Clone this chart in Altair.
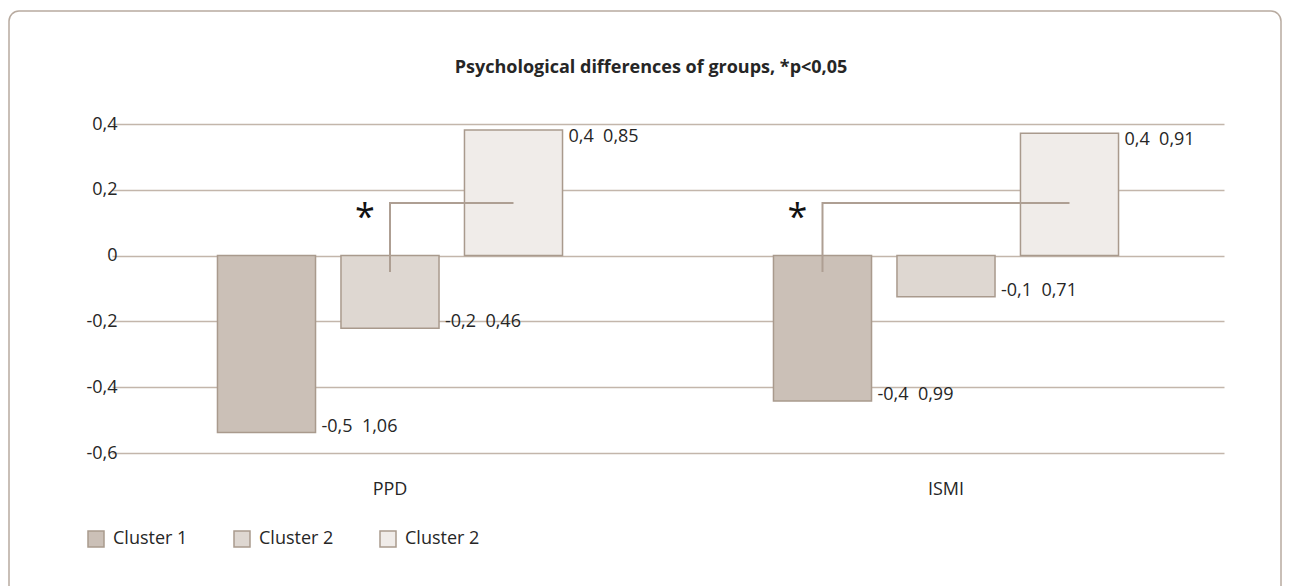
import altair as alt
import pandas as pd

# ---- data ----
groups = ["PPD", "ISMI"]
clusters = ["c1", "c2", "c3"]
cluster_names = ["Cluster 1", "Cluster 2", "Cluster 2"]
ppd_values = [-0.538, -0.221, 0.382]
ismi_values = [-0.442, -0.125, 0.372]
ppd_labels = ["-0,5\u00a0 1,06", "-0,2\u00a0 0,46", "0,4\u00a0 0,85"]
ismi_labels = ["-0,4\u00a0 0,99", "-0,1\u00a0 0,71", "0,4\u00a0 0,91"]

bracket_groups = ["PPD", "ISMI"]
bracket_from = ["c2", "c1"]
bracket_to = ["c3", "c3"]
bracket_top = [0.16, 0.16]
bracket_bottom = [-0.05, -0.05]

title_text = ["Psychological differences of groups, *p<0,05"]

# ---- styles ----
FONT = "Open Sans"
FS = 18
fills = ["#cbc0b7", "#ded7d1", "#f0ece9"]
edge = "#a99a8d"
grid_col = "#c3b6ab"
text_col = "#262626"

rows = []
for g, vals, labs in [("PPD", ppd_values, ppd_labels), ("ISMI", ismi_values, ismi_labels)]:
    for c, v, l in zip(clusters, vals, labs):
        rows.append({"group": g, "cluster": c, "value": v, "label": l})
bars_df = pd.DataFrame(rows)

brows = []
for g, f, t, top, bot in zip(bracket_groups, bracket_from, bracket_to, bracket_top, bracket_bottom):
    brows.append({"group": g, "cluster": f, "y": bot, "ord": 0})
    brows.append({"group": g, "cluster": f, "y": top, "ord": 1})
    brows.append({"group": g, "cluster": t, "y": top, "ord": 2})
br_df = pd.DataFrame(brows)
star_df = pd.DataFrame({"group": bracket_groups, "cluster": bracket_from, "y": bracket_top})

x_enc = alt.X("group:N", scale=alt.Scale(domain=groups, range=[-28, 1084], paddingInner=0, paddingOuter=0),
              axis=alt.Axis(title=None, labelFont=FONT, labelFontSize=FS, labelColor=text_col,
                            ticks=False, domain=False, labelPadding=27, labelAngle=0, grid=False))
xo_enc = alt.XOffset("cluster:N", scale=alt.Scale(domain=clusters, paddingInner=0.206, paddingOuter=0.854))
y_scale = alt.Scale(domain=[-0.6, 0.4], nice=False, zero=False)

label_expr = "(datum.value < 0 ? '-' : '') + (datum.value == 0 ? '0' : replace(format(abs(datum.value), '.1f'), '.', ','))"
y_enc = alt.Y("value:Q", scale=y_scale,
              axis=alt.Axis(title=None, values=[-0.6, -0.4, -0.2, 0, 0.2, 0.4], labelExpr=label_expr,
                            labelFont=FONT, labelFontSize=FS, labelColor=text_col, ticks=False, domain=False,
                            labelPadding=23, grid=True, gridColor=grid_col, gridWidth=1.5))

legend_expr = " : ".join(f"datum.value == '{c}' ? '{n}'" for c, n in zip(clusters[:-1], cluster_names[:-1])) + f" : '{cluster_names[-1]}'"

bars = alt.Chart(bars_df).mark_bar(stroke=edge, strokeWidth=1.5).encode(
    x=x_enc,
    xOffset=xo_enc,
    y=y_enc,
    color=alt.Color("cluster:N", scale=alt.Scale(domain=clusters, range=fills),
                    legend=alt.Legend(title=None, orient="none", legendX=-53, legendY=406, direction="horizontal",
                                      columns=3, symbolType="square", symbolSize=256, symbolStrokeColor=edge,
                                      symbolStrokeWidth=1.5, labelFont=FONT, labelFontSize=FS,
                                      labelColor=text_col, labelOffset=8, columnPadding=43, padding=0,
                                      labelExpr=legend_expr)),
)

lab_neg = alt.Chart(bars_df).transform_filter("datum.value < 0").mark_text(
    align="left", baseline="middle", dx=55, dy=-6, font=FONT, fontSize=FS, color=text_col
).encode(x="group:N", xOffset="cluster:N", y=alt.Y("value:Q", scale=y_scale), text="label:N")

lab_pos = alt.Chart(bars_df).transform_filter("datum.value >= 0").mark_text(
    align="left", baseline="middle", dx=55, dy=7, font=FONT, fontSize=FS, color=text_col
).encode(x="group:N", xOffset="cluster:N", y=alt.Y("value:Q", scale=y_scale), text="label:N")

bracket = alt.Chart(br_df).mark_line(color="#ae9f93", strokeWidth=2).encode(
    x="group:N", xOffset="cluster:N", y=alt.Y("y:Q", scale=y_scale), detail="group:N", order="ord:Q"
)

stars = alt.Chart(star_df).mark_text(
    text="*", align="center", baseline="middle", dx=-25, dy=15, font=FONT, fontSize=36, color="#111111"
).encode(x="group:N", xOffset="cluster:N", y=alt.Y("y:Q", scale=y_scale))

title = alt.Chart(pd.DataFrame({"t": title_text})).mark_text(
    align="center", baseline="middle", font=FONT, fontSize=18, fontWeight="bold", color=text_col
).encode(text="t:N", x=alt.value(511), y=alt.value(-56))

border = alt.Chart(alt.Data(values=[{"k": 1}])).mark_rect(
    fillOpacity=0, stroke="#b8aba0", strokeWidth=1.5, cornerRadius=10
).encode(x=alt.value(-131), x2=alt.value(1141), y=alt.value(-113), y2=alt.value(480))

chart = alt.layer(border, bars, bracket, lab_neg, lab_pos, stars, title).properties(
    width=1056, height=329,
    autosize=alt.AutoSizeParams(type="none"),
    padding={"left": 140, "top": 124, "right": 94, "bottom": 133},
).configure(background="white", view=alt.ViewConfig(stroke=None))

chart.save("out.html", embed_options={"renderer": "svg", "actions": False})
